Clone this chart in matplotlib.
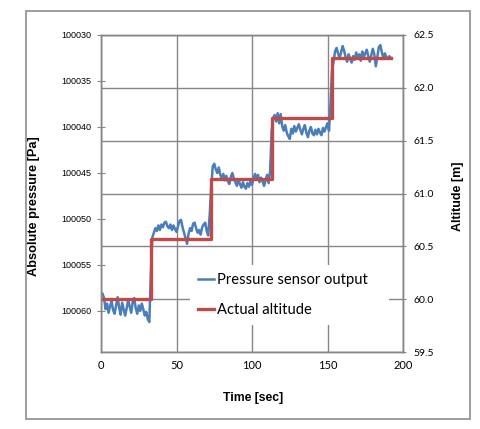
import matplotlib
matplotlib.use("Agg")
import matplotlib.pyplot as plt
from matplotlib.patches import Rectangle

# Données
time_s = list(range(0, 193))
pressure_pa = [
    100058.3, 100058.1, 100058.6, 100059.8, 100059.2, 100060.2, 100059.5, 100058.9, 100059.9, 100060.3,
    100059.4, 100058.5, 100059.6, 100060.4, 100059.1, 100059.8, 100060.5, 100059.7, 100058.8, 100059.5,
    100060.2, 100059.0, 100058.6, 100059.7, 100060.3, 100059.4, 100060.0, 100059.2, 100059.8, 100060.5,
    100060.1, 100060.9, 100061.2,
    100056.0,
    100052.0, 100051.5, 100051.0, 100051.3, 100050.7, 100051.2, 100050.6, 100050.9, 100050.4, 100050.3,
    100050.8, 100051.0, 100050.6, 100051.2, 100050.7, 100051.1, 100051.4, 100050.8, 100050.2, 100050.1,
    100050.9, 100051.5, 100052.1, 100052.7, 100051.6, 100051.0, 100051.3, 100050.5, 100050.4, 100051.0,
    100051.5, 100051.2, 100051.7, 100050.9, 100050.6, 100050.4, 100051.3, 100051.8, 100049.5,
    100046.5, 100044.3, 100044.0, 100044.6, 100045.0, 100044.4, 100045.2, 100045.6, 100045.1, 100045.8,
    100045.3, 100045.9, 100046.2, 100045.4, 100045.0, 100045.6, 100046.0, 100046.4, 100045.7, 100046.2,
    100046.6, 100046.0, 100046.5, 100046.7, 100046.1, 100046.5, 100045.9, 100046.3, 100045.6, 100045.1,
    100045.6, 100045.2, 100046.0, 100045.5, 100045.9, 100046.4, 100045.8, 100045.2, 100046.1, 100044.8,
    100040.5, 100039.0, 100038.7, 100039.4, 100038.5, 100039.6, 100038.6, 100039.9, 100040.4, 100039.8,
    100040.6, 100041.0, 100041.3, 100040.2, 100040.7, 100039.9, 100040.5, 100040.1, 100039.7, 100040.3,
    100040.8, 100040.2, 100039.8, 100040.6, 100041.1, 100040.4, 100040.0, 100040.7, 100040.9, 100040.3,
    100040.8, 100040.2, 100040.6, 100040.9, 100040.1, 100040.5, 100040.0, 100039.6, 100040.4, 100037.5,
    100033.8, 100032.9, 100031.8, 100031.4, 100032.0, 100032.5, 100031.9, 100031.2, 100031.7, 100032.4,
    100032.9, 100032.1, 100032.6, 100033.0, 100032.3, 100032.7, 100031.9, 100032.5, 100032.1, 100032.8,
    100031.8, 100032.4, 100032.0, 100031.6, 100032.3, 100032.9, 100032.2, 100031.5, 100032.1, 100033.4,
    100032.4, 100031.3, 100031.1, 100031.9, 100032.5, 100032.0, 100032.4, 100032.6, 100032.3, 100032.5,
]
step_times = [0, 33, 73, 113, 153, 192]
step_alt = [60.0, 60.57, 61.14, 61.71, 62.28, 62.28]

x_ticks = [0, 50, 100, 150, 200]
p_ticks = [100030, 100035, 100040, 100045, 100050, 100055, 100060]
alt_ticks = [59.5, 60.0, 60.5, 61.0, 61.5, 62.0, 62.5]

BLUE = "#4a7ebb"
RED = "#be4b48"
GREY = "#868686"

fig = plt.figure(figsize=(4.8, 4.29), dpi=100)
fig.patches.append(Rectangle((26 / 480, 1 - 419 / 429), 444 / 480, 408 / 429,
                             transform=fig.transFigure, fill=False,
                             edgecolor="#8c8c8c", linewidth=1.2))

ax1 = fig.add_axes([101 / 480, 1 - 352 / 429, 302 / 480, 317 / 429])
ax2 = ax1.twinx()

# Courbes
l1, = ax1.plot(time_s, pressure_pa, color=BLUE, lw=1.8, label="Pressure sensor output")
l2, = ax2.plot(step_times, step_alt, color=RED, lw=2.4, drawstyle="steps-post",
               label="Actual altitude")

ax1.set_xlim(0, 200)
ax1.set_ylim(100064.46, 100030)
ax2.set_ylim(59.5, 62.5)

ax1.set_xticks(x_ticks)
ax1.set_yticks(p_ticks)
ax1.set_yticklabels([str(v) for v in p_ticks])
ax2.set_yticks(alt_ticks)
ax2.set_yticklabels([f"{v:.1f}" for v in alt_ticks])

ax1.grid(axis="x", color=GREY, lw=1)
ax2.grid(axis="y", color=GREY, lw=1)
ax1.set_axisbelow(True)
ax2.set_axisbelow(True)

for ax in (ax1, ax2):
    for s in ax.spines.values():
        s.set_color(GREY)
        s.set_linewidth(1)

ax1.tick_params(axis="x", length=0, pad=6, labelsize=8)
ax1.tick_params(axis="y", direction="inout", length=6, color=GREY, pad=4, labelsize=6.5)
ax2.tick_params(axis="y", direction="inout", length=5, color=GREY, pad=5, labelsize=7.5)
for lab in ax1.get_xticklabels() + ax2.get_yticklabels():
    lab.set_fontfamily("Lato")
for lab in ax1.get_yticklabels():
    lab.set_fontfamily("Liberation Sans")

ax1.set_xlabel("Time [sec]", fontsize=8.8, fontweight="bold", family="Liberation Sans")
ax1.xaxis.set_label_coords(0.503, -0.125)
ax1.set_ylabel("Absolute pressure [Pa]", fontsize=9.2, fontweight="bold", family="Liberation Sans")
ax1.yaxis.set_label_coords(-0.202, 0.46)
ax2.set_ylabel("Altitude [m]", fontsize=9, fontweight="bold", family="Liberation Sans",
               rotation=90)
ax2.yaxis.set_label_coords(1.161, 0.49)

leg = ax2.legend(handles=[l1, l2], loc="lower left", bbox_to_anchor=(0.295, 0.085, 0.66, 0.174),
                 mode="expand", frameon=True, fancybox=False, framealpha=1, facecolor="white",
                 edgecolor="none", handlelength=1.1, handletextpad=0.15,
                 labelspacing=1.05, borderpad=0.55, borderaxespad=0,
                 prop={"family": "Lato", "size": 10.6})

fig.savefig("out.png", dpi=100)
